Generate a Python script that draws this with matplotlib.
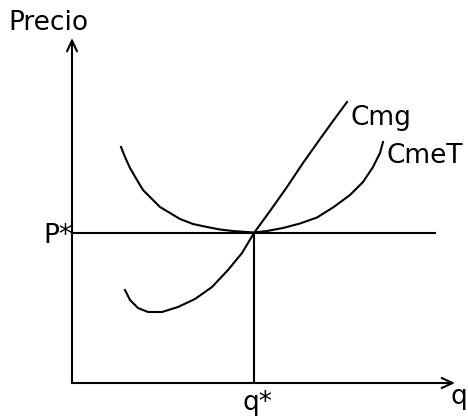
"""Costo marginal y costo medio total con equilibrio P*, q*."""

import matplotlib

matplotlib.use("Agg")
import matplotlib.pyplot as plt

# puntos (origen en el cruce de los ejes)
cmg_q = [53, 58, 66, 76, 90, 106, 123, 140, 156, 170, 182, 198, 215, 231, 248, 261, 275]
cmg_p = [93, 83, 75, 71, 71, 76, 84, 96, 113, 130, 150, 172, 196, 220, 244, 262, 281]

cmet_q = [49, 53, 58, 65, 71, 80, 88, 98, 108, 121, 135, 148, 161, 182,
          195, 211, 228, 245, 261, 278, 291, 301, 308, 311]
cmet_p = [236, 226, 215, 203, 193, 184, 176, 170, 164, 159, 156, 153.5, 152, 150.5,
          152, 155, 159.5, 165.5, 175.5, 188, 201, 216, 230, 241]

q_star = 182
p_star = 150
q_max = 383
p_max = 345
p_line_end = 363

labels = {"y": "Precio", "x": "q", "p": "P*", "q": "q*", "cmg": "Cmg", "cmet": "CmeT"}


def main() -> None:
    fig = plt.figure(figsize=(4.68, 4.17), dpi=100)
    ax = fig.add_axes([0, 0, 1, 1])
    ax.set_xlim(-72, 396)
    ax.set_ylim(-34, 383)
    ax.axis("off")

    lw = 1.5
    fs = 19

    # ejes con flechas abiertas
    arrow = {"arrowstyle": "->,head_length=0.65,head_width=0.3", "lw": lw, "color": "black",
             "shrinkA": 0, "shrinkB": 0, "mutation_scale": 12}
    ax.annotate("", xy=(0, p_max), xytext=(0, 0), arrowprops=arrow)
    ax.annotate("", xy=(q_max, 0), xytext=(0, 0), arrowprops=arrow)

    ax.plot([0, p_line_end], [p_star, p_star], color="black", lw=lw)
    ax.plot([q_star, q_star], [0, p_star], color="black", lw=lw)

    ax.plot(cmet_q, cmet_p, color="black", lw=lw, solid_joinstyle="round")
    ax.plot(cmg_q, cmg_p, color="black", lw=lw, solid_joinstyle="round")

    ax.text(-64, 353, labels["y"], fontsize=fs, ha="left", va="baseline")
    ax.text(378, -21, labels["x"], fontsize=fs, ha="left", va="baseline")
    ax.text(0, 140, labels["p"], fontsize=fs, ha="right", va="baseline")
    ax.text(q_star + 3, -27, labels["q"], fontsize=fs, ha="center", va="baseline")
    ax.text(278, 258, labels["cmg"], fontsize=fs, ha="left", va="baseline")
    ax.text(315, 220, labels["cmet"], fontsize=fs, ha="left", va="baseline")

    fig.savefig("out.png", dpi=100)
    plt.close(fig)


if __name__ == "__main__":
    main()
